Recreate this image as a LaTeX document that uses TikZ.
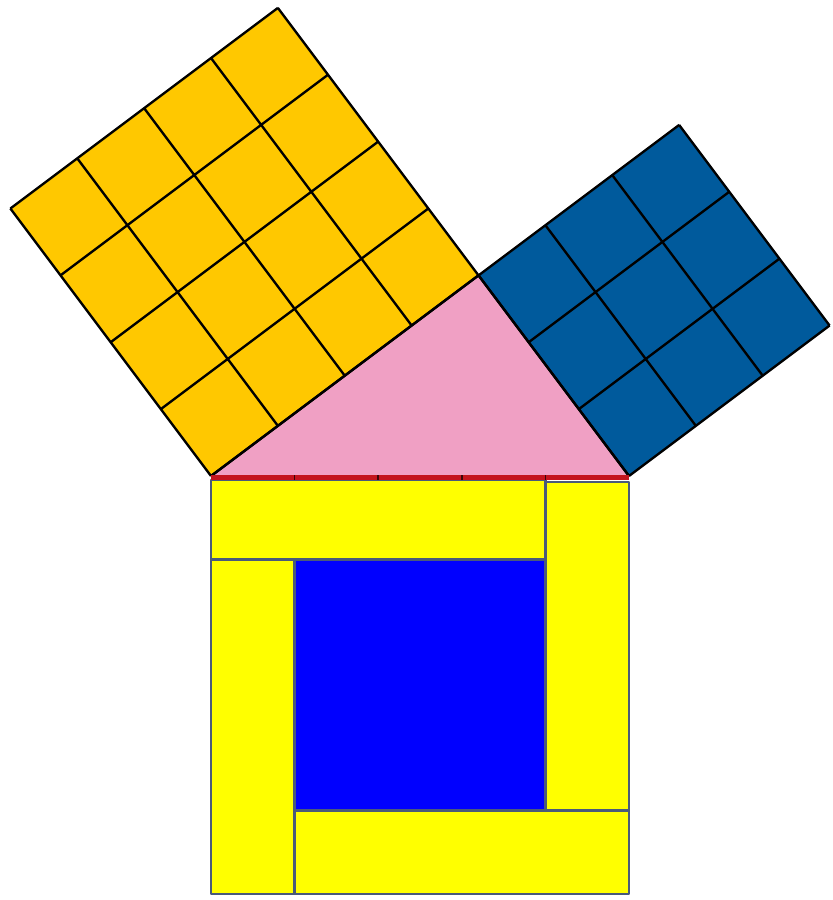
\documentclass[tikz,border=0pt]{standalone}
\usepackage{tikz}
\definecolor{gold}{RGB}{255,200,0}
\definecolor{navy}{RGB}{0,90,156}
\definecolor{rose}{RGB}{240,160,196}
\definecolor{slate}{RGB}{74,90,122}
\definecolor{hypred}{RGB}{196,20,30}
\definecolor{lemon}{RGB}{255,255,0}
\definecolor{royal}{RGB}{0,0,255}
\begin{document}
\begin{tikzpicture}[x=1cm,y=1cm,scale=1,line join=round]
				\useasboundingbox (-2.524,-5.072) rectangle (7.440,5.694);
				\coordinate (A) at (0,0);
				\coordinate (B) at (3.2,2.4);
				\coordinate (C) at (5,0);
				% triangle
				\fill[rose] (A)--(B)--(C)--cycle;
				% square on the longer leg
				\begin{scope}[shift={(A)},rotate=36.87]
					\fill[gold] (0,0) rectangle (4,4);
					\draw[line width=0.8pt] (0,0) grid (4,4);
				\end{scope}
				% square on the shorter leg
				\begin{scope}[shift={(C)},rotate=36.87]
					\fill[navy] (0,0) rectangle (3,3);
					\draw[line width=0.8pt] (0,0) grid (3,3);
				\end{scope}
				\draw[line width=0.8pt] (A)--(B)--(C);
				% square on the hypotenuse
				\begin{scope}[draw=slate,line width=0.8pt]
					\filldraw[fill=lemon] (0,-0.05) rectangle (4,-1);
					\filldraw[fill=lemon] (4,-0.07) rectangle (5,-4);
					\filldraw[fill=lemon] (1,-4) rectangle (5,-5);
					\filldraw[fill=lemon] (0,-1) rectangle (1,-5);
					\filldraw[fill=royal] (1,-1) rectangle (4,-4);
				\end{scope}
				\draw[hypred,line width=1.8pt] (0,-0.02)--(5,-0.02);
				\foreach \i in {1,...,4}
					\draw[black!70!hypred,line width=0.6pt] (\i,0.01)--(\i,-0.05);
		\end{tikzpicture}
\end{document}
